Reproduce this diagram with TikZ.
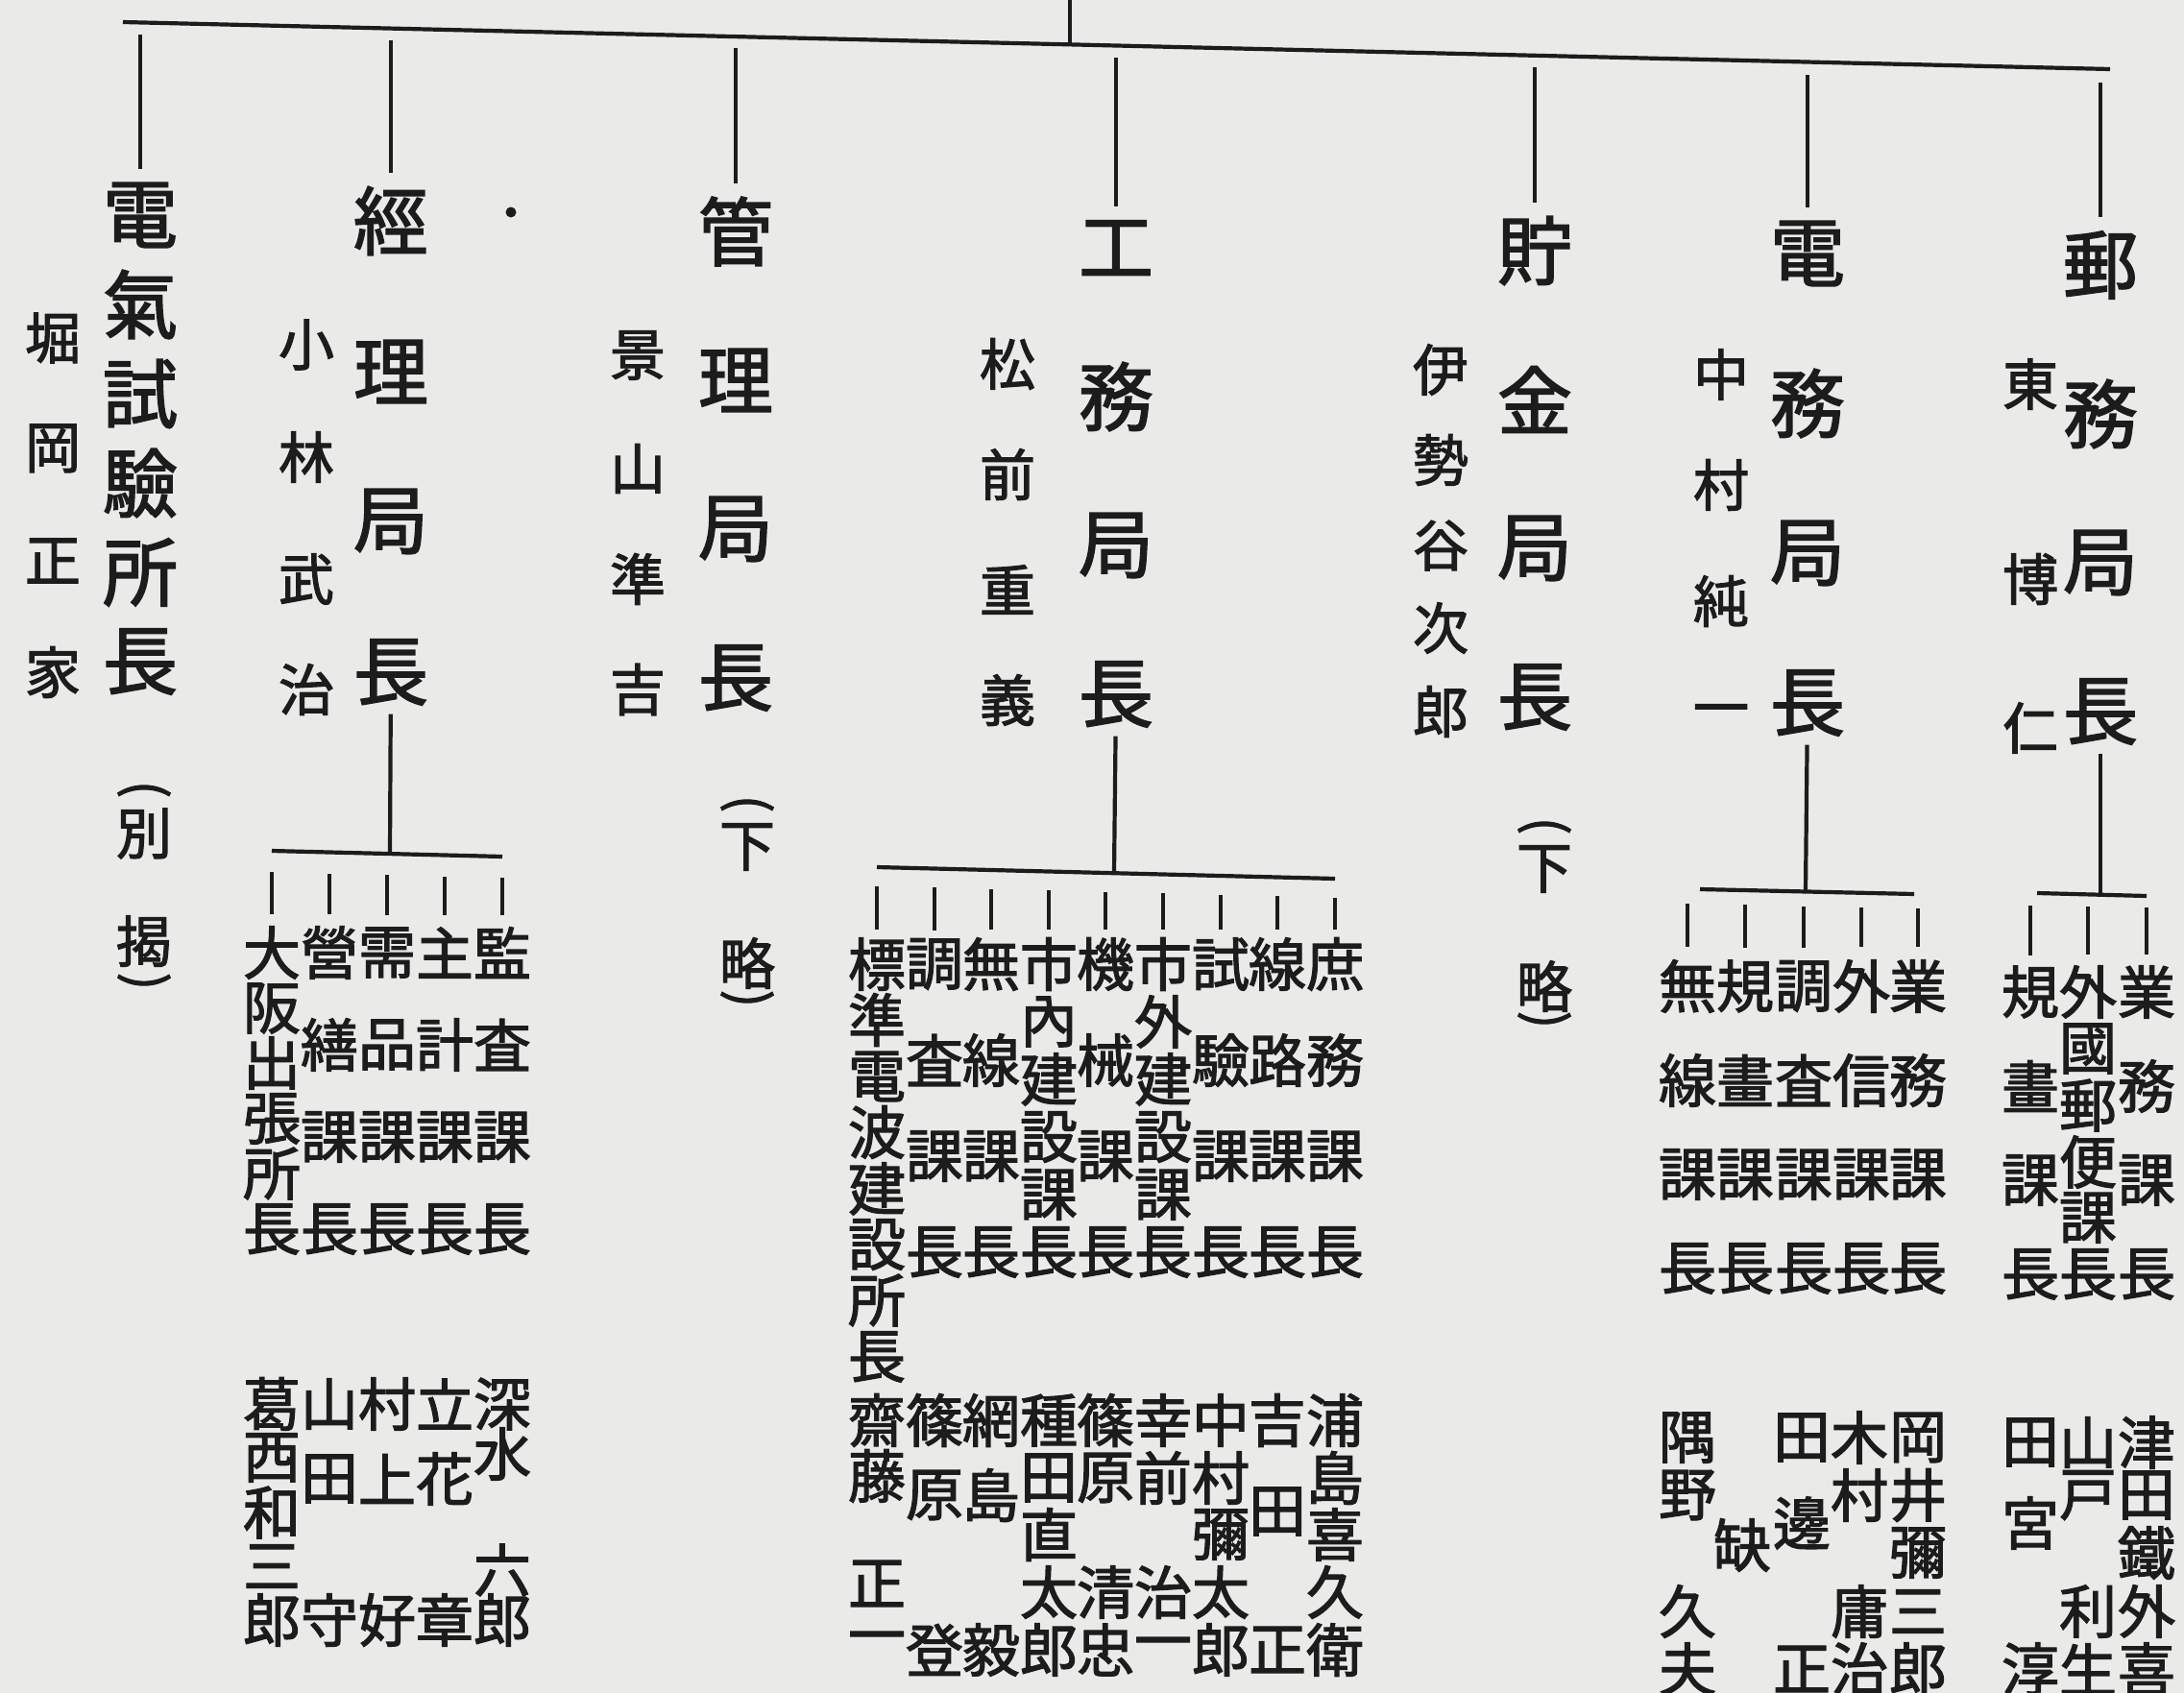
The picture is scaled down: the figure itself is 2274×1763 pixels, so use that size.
\documentclass[tikz,border=0pt]{standalone}
\usepackage{fontspec}
\newfontfamily\jp{Noto Sans CJK JP}[FakeBold=2]
\definecolor{paper}{RGB}{234,234,232}
\definecolor{ink}{RGB}{28,28,28}
\tikzset{
  ln/.style={draw=ink, line width=4.2pt},
  ttl/.style={inner sep=0pt, text=ink, font=\jp\fontsize{78}{78}\selectfont},
  nm/.style={inner sep=0pt, text=ink, font=\jp\fontsize{58}{58}\selectfont},
  sb/.style={inner sep=0pt, text=ink, font=\jp\fontsize{60}{60}\selectfont},
  par/.style={inner sep=0pt, text=ink, font=\jp\fontsize{54}{54}\selectfont, rotate=-90},
}
\newcommand\vcol[4]{\foreach \ch/\yy [count=\i] in {#4}{\node[#3] (#1-\i) at (#2,\yy) {\ch};}}
\begin{document}
\begin{tikzpicture}[x=1pt,y=-1pt]
\useasboundingbox (0,0) rectangle (2274,1763);
\fill[paper] (0,0) rectangle (2274,1763);

% top-level titles
\vcol{A1}{146}{ttl}{電/224,氣/317,試/410,驗/503,所/596,長/689}
\vcol{A2}{407}{ttl}{經/230,理/387,局/543,長/700}
\vcol{A3}{766}{ttl}{管/241,理/396,局/551,長/706}
\vcol{A4}{1162}{ttl}{工/258,務/413,局/568,長/723}
\vcol{A5}{1598}{ttl}{貯/261,金/416,局/571,長/726}
\vcol{A6}{1882}{ttl}{電/264,務/420,局/576,長/732}
\vcol{A7}{2187}{ttl}{郵/276,務/431,局/586,長/741}

% names of heads
\vcol{B1}{55}{nm}{堀/352,岡/467,正/584,家/700}
\vcol{B2}{319}{nm}{小/359,林/476,武/603,治/718}
\vcol{B3}{664}{nm}{景/370,山/488,準/603,吉/718}
\vcol{B4}{1049}{nm}{松/379,前/494,重/614,義/729}
\vcol{B5}{1500}{nm}{伊/385,勢/479,谷/568,次/654,郎/741}
\vcol{B6}{1792}{nm}{中/390,村/505,純/626,一/746}
\vcol{B7}{2114}{nm}{東/400,博/603,仁/758}

% notes in parentheses
\node[par] (P1-1) at (150,822) {(};
\vcol{P1m}{150}{nm}{別/868,揭/980}
\node[par] (P1-2) at (150,1022) {)};
\node[par] (P2-1) at (778,837) {(};
\vcol{P2m}{778}{nm}{下/882,略/1003}
\node[par] (P2-2) at (778,1040) {)};
\node[par] (P3-1) at (1608,860) {(};
\vcol{P3m}{1608}{nm}{下/905,略/1027}
\node[par] (P3-2) at (1608,1062) {)};

\node[circle, fill=ink, inner sep=0pt, minimum size=11pt] (dot) at (532,221) {};

% main line
\coordinate (r0) at (1114,-10);
\coordinate (r1) at (1114,46);
\draw[ln] (r0) -- (r1);
\coordinate (hL) at (128,23);
\coordinate (hR) at (2197,72);
\draw[ln] (hL) -- (hR);
\foreach \n/\x/\y in {A1/146/36,A2/407/42,A3/766/50,A4/1162/60,A5/1598/70,A6/1882/78,A7/2187/86}{
  \coordinate (\n t) at (\x,\y);
  \draw[ln, shorten >=14pt] (\n t) -- (\n-1);
}

% ---- 經理局 sub
\vcol{K1}{283}{sb}{大/992,阪/1050,出/1107,張/1165,所/1222,長/1280}
\vcol{K2}{343}{sb}{營/992,繕/1088,課/1184,長/1280}
\vcol{K3}{403}{sb}{需/992,品/1088,課/1184,長/1280}
\vcol{K4}{463}{sb}{主/992,計/1088,課/1184,長/1280}
\vcol{K5}{523}{sb}{監/992,査/1088,課/1184,長/1280}
\vcol{KN1}{283}{sb}{葛/1462,西/1518,和/1575,三/1631,郎/1687}
\vcol{KN2}{343}{sb}{山/1462,田/1540,守/1687}
\vcol{KN3}{403}{sb}{村/1462,上/1540,好/1687}
\vcol{KN4}{463}{sb}{立/1462,花/1540,章/1687}
\vcol{KN5}{523}{sb}{深/1462,水/1514,六/1635,郎/1687}
\coordinate (Kj) at (406,889);
\draw[ln, shorten <=9pt] (A2-4) -- (Kj);
\coordinate (KhL) at (283,886);
\coordinate (KhR) at (523,892);
\draw[ln] (KhL) -- (KhR);
\foreach \n/\x/\y in {K1/283/908,K2/343/910,K3/403/911,K4/463/913,K5/523/914}{
  \coordinate (\n t) at (\x,\y);
  \draw[ln, shorten >=12pt] (\n t) -- (\n-1);
}

% ---- 工務局 sub
\vcol{G1}{913}{sb}{標/1004,準/1062,電/1121,波/1179,建/1238,設/1296,所/1354,長/1413}
\vcol{G2}{973}{sb}{調/1004,査/1104,課/1204,長/1304}
\vcol{G3}{1032}{sb}{無/1004,線/1104,課/1204,長/1304}
\vcol{G4}{1092}{sb}{市/1004,內/1064,建/1124,設/1184,課/1244,長/1304}
\vcol{G5}{1151}{sb}{機/1004,械/1104,課/1204,長/1304}
\vcol{G6}{1211}{sb}{市/1004,外/1064,建/1124,設/1184,課/1244,長/1304}
\vcol{G7}{1271}{sb}{試/1004,驗/1104,課/1204,長/1304}
\vcol{G8}{1330}{sb}{線/1004,路/1104,課/1204,長/1304}
\vcol{G9}{1390}{sb}{庶/1004,務/1104,課/1204,長/1304}
\vcol{GN1}{913}{sb}{齋/1479,藤/1537,正/1649,一/1712}
\vcol{GN2}{973}{sb}{篠/1479,原/1557,登/1718}
\vcol{GN3}{1032}{sb}{網/1479,島/1557,毅/1718}
\vcol{GN4}{1092}{sb}{種/1479,田/1539,直/1598,太/1658,郎/1718}
\vcol{GN5}{1151}{sb}{篠/1479,原/1539,清/1658,忠/1718}
\vcol{GN6}{1211}{sb}{幸/1479,前/1539,治/1658,一/1718}
\vcol{GN7}{1271}{sb}{中/1479,村/1539,彌/1598,太/1658,郎/1718}
\vcol{GN8}{1330}{sb}{吉/1479,田/1574,正/1718}
\vcol{GN9}{1390}{sb}{浦/1479,島/1539,喜/1598,久/1658,衛/1718}
\coordinate (Gj) at (1160,909);
\draw[ln, shorten <=9pt] (A4-4) -- (Gj);
\coordinate (GhL) at (913,903);
\coordinate (GhR) at (1390,915);
\draw[ln] (GhL) -- (GhR);
\foreach \n/\x/\y in {G1/913/923,G2/973/924,G3/1032/926,G4/1092/927,G5/1151/929,G6/1211/930,G7/1271/932,G8/1330/933,G9/1390/935}{
  \coordinate (\n t) at (\x,\y);
  \draw[ln, shorten >=8pt] (\n t) -- (\n-1);
}

% ---- 電務局 sub
\vcol{D1}{1757}{sb}{無/1027,線/1125,課/1223,長/1321}
\vcol{D2}{1817}{sb}{規/1027,畫/1125,課/1223,長/1321}
\vcol{D3}{1878}{sb}{調/1027,査/1125,課/1223,長/1321}
\vcol{D4}{1938}{sb}{外/1027,信/1125,課/1223,長/1321}
\vcol{D5}{1997}{sb}{業/1027,務/1125,課/1223,長/1321}
\vcol{DN1}{1757}{sb}{隅/1497,野/1557,久/1678,夫/1738}
\vcol{DN2}{1814}{sb}{缺/1609}
\vcol{DN3}{1876}{sb}{田/1497,邊/1586,正/1738}
\vcol{DN4}{1936}{sb}{木/1497,村/1557,庸/1678,治/1738}
\vcol{DN5}{1997}{sb}{岡/1497,井/1557,彌/1617,三/1678,郎/1738}
\coordinate (Dj) at (1880,928);
\draw[ln, shorten <=9pt] (A6-4) -- (Dj);
\coordinate (DhL) at (1770,926);
\coordinate (DhR) at (1993,931);
\draw[ln] (DhL) -- (DhR);
\foreach \n/\x/\y in {D1/1757/941,D2/1817/942,D3/1878/944,D4/1938/945,D5/1997/946}{
  \coordinate (\n t) at (\x,\y);
  \draw[ln, shorten >=13pt] (\n t) -- (\n-1);
}

% ---- 郵務局 sub
\vcol{Y1}{2114}{sb}{規/1033,畫/1131,課/1229,長/1327}
\vcol{Y2}{2174}{sb}{外/1033,國/1092,郵/1151,便/1210,課/1268,長/1327}
\vcol{Y3}{2235}{sb}{業/1033,務/1131,課/1229,長/1327}
\vcol{YN1}{2114}{sb}{田/1502,宮/1586,淳/1738}
\vcol{YN2}{2174}{sb}{山/1502,戸/1557,利/1678,生/1738}
\vcol{YN3}{2235}{sb}{津/1502,田/1557,鐵/1617,外/1678,喜/1738}
\coordinate (Yj) at (2187,932);
\draw[ln, shorten <=9pt] (A7-4) -- (Yj);
\coordinate (YhL) at (2121,930);
\coordinate (YhR) at (2235,933);
\draw[ln] (YhL) -- (YhR);
\foreach \n/\x/\y in {Y1/2114/943,Y2/2174/944,Y3/2235/945}{
  \coordinate (\n t) at (\x,\y);
  \draw[ln, shorten >=11pt] (\n t) -- (\n-1);
}
\end{tikzpicture}
\end{document}
